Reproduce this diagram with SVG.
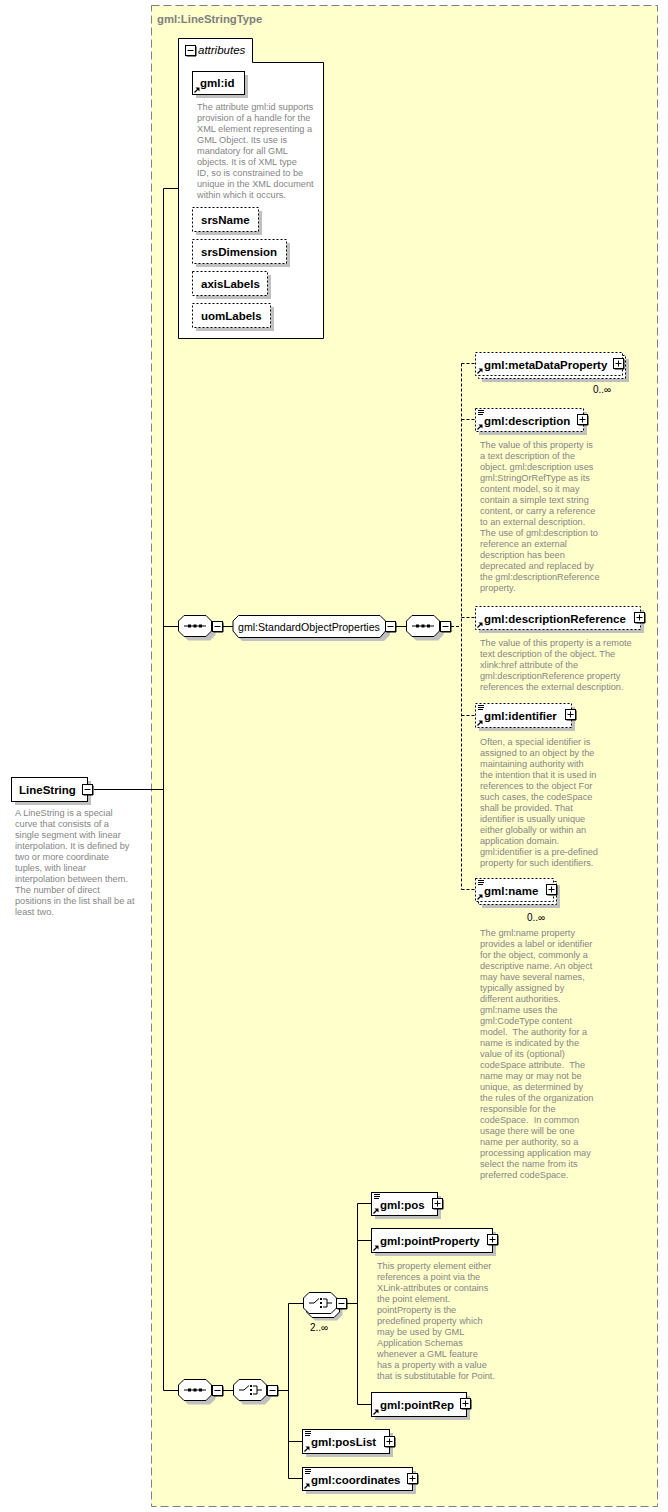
<svg xmlns="http://www.w3.org/2000/svg" xmlns:xlink="http://www.w3.org/1999/xlink" width="668" height="1512" viewBox="0 0 668 1512">
<style>
.bx{fill:#fff;stroke:#000;stroke-width:1}
.db{fill:#fff;stroke:#000;stroke-width:1;stroke-dasharray:2,2}
.sh{fill:#c0c0c0;stroke:none}
.t{font-family:"Liberation Sans",Arial,sans-serif;font-weight:bold;font-size:11.5px;fill:#000}
.n{font-family:"Liberation Sans",Arial,sans-serif;font-size:10.6px;fill:#000}
.m{font-family:"Liberation Sans",Arial,sans-serif;font-size:10px;fill:#000}
.d{font-family:"Liberation Sans",Arial,sans-serif;font-size:9.2px;fill:#858585}
.ln{stroke:#000;stroke-width:1;fill:none}
.dl{stroke:#000;stroke-width:1;fill:none;stroke-dasharray:3,2}
</style>
<defs>
<path id="oct" d="M6,0.5 H28 L33.5,6 V16 L28,21.5 H6 L0.5,16 V6 Z"/>
<g id="plus"><rect x="0.5" y="0.5" width="10" height="10" fill="#fff" stroke="#000"/><path d="M1.5,11 H11 V1.5" stroke="#000" fill="none"/><path d="M2.5,5.5 H8.5 M5.5,2.5 V8.5" stroke="#000"/></g>
<g id="minus"><rect x="0.5" y="0.5" width="10" height="10" fill="#fff" stroke="#000"/><path d="M1.5,11 H11 V1.5" stroke="#000" fill="none"/><path d="M2.5,5.5 H8.5" stroke="#000"/></g>
<g id="ref"><path d="M2,-2 L6,-6" stroke="#000" stroke-width="1.3"/><path d="M3,-7 H7 V-3 Z" fill="#000"/></g>
<g id="sc"><path d="M2.5,2 H8.5 M2.5,4 H8.5 M2.5,6 H7.5" stroke="#000" stroke-width="1"/></g>
<g id="seqi"><path d="M6,11 H28" stroke="#000"/><rect x="10" y="9.5" width="3" height="3" fill="#000"/><rect x="15.5" y="9.5" width="3" height="3" fill="#000"/><rect x="21" y="9.5" width="3" height="3" fill="#000"/></g>
<g id="chi"><path d="M6,11 H11 L16,6.5" stroke="#000" fill="none"/><rect x="17" y="6" width="2" height="2" fill="#000"/><rect x="17" y="10" width="2" height="2" fill="#000"/><rect x="17" y="14" width="2" height="2" fill="#000"/><path d="M20,7 H24 V15 H20 M24,11 H29" stroke="#000" fill="none"/></g>
</defs>
<rect x="0" y="0" width="668" height="1512" fill="#fff"/>

<g id="type">
<rect x="151.5" y="5.5" width="506" height="1501" fill="#ffffcc" stroke="#808080" stroke-width="1" stroke-dasharray="8,4"/>
<text x="157" y="23" class="t" style="fill:#808080;font-size:11.3px">gml:LineStringType</text>
</g>

<g id="connectors">
<path class="ln" d="M94,789.5 H163.5 M163.5,188.5 V1390.5 M163.5,188.5 H178 M163.5,626.5 H178 M223,626.5 H233 M396,626.5 H406 M163.5,1390.5 H178 M223,1390.5 H233 M278,1390.5 H288"/>
<path class="ln" d="M288.5,1303.5 V1478.5 M288.5,1303.5 H303 M288.5,1441.5 H302 M288.5,1478.5 H302 M347,1303.5 H357.5 M357.5,1203.5 V1404.5 M357.5,1203.5 H371 M357.5,1240.5 H371 M357.5,1404.5 H371"/>
<path class="dl" d="M451,626.5 H461.5 M461.5,363.5 V889.5 M461.5,363.5 H475 M461.5,419.5 H475 M461.5,617.5 H475 M461.5,715.5 H475 M461.5,889.5 H475"/>
</g>

<g id="attributes">
<path class="bx" d="M178.5,338.5 V38.5 H252.5 V62.5 H323.5 V338.5 Z"/>
<use xlink:href="#minus" href="#minus" x="185" y="45"/>
<text x="198" y="54" font-family="Liberation Sans, Arial, sans-serif" font-size="11.5" font-style="italic">attributes</text>
</g>

<g id="gml-id">
<rect class="sh" x="196" y="75" width="52" height="23"/>
<rect class="bx" x="192.5" y="71.5" width="52" height="23"/>
<use href="#ref" x="192.5" y="94.5"/>
<text x="200" y="87" class="t">gml:id</text>
<text class="d"><tspan x="197" y="110">The attribute gml:id supports</tspan><tspan x="197" dy="11">provision of a handle for the</tspan><tspan x="197" dy="11">XML element representing a</tspan><tspan x="197" dy="11">GML Object. Its use is</tspan><tspan x="197" dy="11">mandatory for all GML</tspan><tspan x="197" dy="11">objects. It is of XML type</tspan><tspan x="197" dy="11">ID, so is constrained to be</tspan><tspan x="197" dy="11">unique in the XML document</tspan><tspan x="197" dy="11">within which it occurs.</tspan></text>
</g>

<g id="srsName">
<rect class="sh" x="196" y="211" width="66" height="24"/>
<rect class="db" x="192.5" y="207.5" width="66" height="24"/>
<text x="201" y="223.5" class="t">srsName</text>
</g>
<g id="srsDimension">
<rect class="sh" x="196" y="243" width="94" height="24"/>
<rect class="db" x="192.5" y="239.5" width="94" height="24"/>
<text x="201" y="255.5" class="t">srsDimension</text>
</g>
<g id="axisLabels">
<rect class="sh" x="196" y="275" width="75" height="24"/>
<rect class="db" x="192.5" y="271.5" width="75" height="24"/>
<text x="201" y="287.5" class="t">axisLabels</text>
</g>
<g id="uomLabels">
<rect class="sh" x="196" y="307" width="78" height="24"/>
<rect class="db" x="192.5" y="303.5" width="78" height="24"/>
<text x="201" y="319.5" class="t">uomLabels</text>
</g>

<g id="LineString">
<rect class="sh" x="15" y="781" width="76" height="24"/>
<rect class="bx" x="11.5" y="777.5" width="76" height="24"/>
<text x="19" y="793.5" class="t">LineString</text>
<use href="#minus" x="82" y="784"/>
<text class="d"><tspan x="15" y="816">A LineString is a special</tspan><tspan x="15" dy="11">curve that consists of a</tspan><tspan x="15" dy="11">single segment with linear</tspan><tspan x="15" dy="11">interpolation. It is defined by</tspan><tspan x="15" dy="11">two or more coordinate</tspan><tspan x="15" dy="11">tuples, with linear</tspan><tspan x="15" dy="11">interpolation between them.</tspan><tspan x="15" dy="11">The number of direct</tspan><tspan x="15" dy="11">positions in the list shall be at</tspan><tspan x="15" dy="11">least two.</tspan></text>
</g>

<g id="seq1">
<use href="#oct" class="sh" x="182" y="619"/>
<use href="#oct" class="bx" x="178" y="615"/>
<use href="#seqi" x="178" y="615"/>
<use href="#minus" x="212" y="621"/>
</g>

<g id="StandardObjectProperties">
<path class="sh" d="M242,619 H384 L390,625 V635 L384,641 H242 L236,635 V625 Z"/>
<path class="bx" d="M238.5,615.5 H380 L385.5,621 V631 L380,637.5 H238.5 L233,631 V621 Z"/>
<text x="238" y="630.5" class="n">gml:StandardObjectProperties</text>
<use href="#minus" x="385" y="621"/>
</g>

<g id="seq2">
<use href="#oct" class="sh" x="410" y="619"/>
<use href="#oct" class="bx" x="406" y="615"/>
<use href="#seqi" x="406" y="615"/>
<use href="#minus" x="440" y="621"/>
</g>

<g id="metaDataProperty">
<rect class="sh" x="482" y="359" width="147" height="23"/>
<rect class="db" x="478.5" y="355.5" width="147" height="23"/>
<rect class="db" x="475.5" y="352.5" width="147" height="23"/>
<use href="#ref" x="475.5" y="375.5"/>
<text x="484" y="368.5" class="t">gml:metaDataProperty</text>
<use href="#plus" x="613" y="358"/>
<text x="593" y="393" class="m">0..∞</text>
</g>

<g id="description">
<rect class="sh" x="479" y="412" width="108" height="23"/>
<rect class="db" x="475.5" y="408.5" width="108" height="23"/>
<use href="#sc" x="475.5" y="408.5"/>
<use href="#ref" x="475.5" y="431.5"/>
<text x="484" y="424.5" class="t">gml:description</text>
<use href="#plus" x="577" y="414"/>
<text class="d"><tspan x="480" y="447.5">The value of this property is</tspan><tspan x="480" dy="11">a text description of the</tspan><tspan x="480" dy="11">object. gml:description uses</tspan><tspan x="480" dy="11">gml:StringOrRefType as its</tspan><tspan x="480" dy="11">content model, so it may</tspan><tspan x="480" dy="11">contain a simple text string</tspan><tspan x="480" dy="11">content, or carry a reference</tspan><tspan x="480" dy="11">to an external description.</tspan><tspan x="480" dy="11">The use of gml:description to</tspan><tspan x="480" dy="11">reference an external</tspan><tspan x="480" dy="11">description has been</tspan><tspan x="480" dy="11">deprecated and replaced by</tspan><tspan x="480" dy="11">the gml:descriptionReference</tspan><tspan x="480" dy="11">property.</tspan></text>
</g>

<g id="descriptionReference">
<rect class="sh" x="479" y="610" width="165" height="23"/>
<rect class="db" x="475.5" y="606.5" width="165" height="23"/>
<use href="#ref" x="475.5" y="629.5"/>
<text x="484" y="622.5" class="t">gml:descriptionReference</text>
<use href="#plus" x="634" y="612"/>
<text class="d"><tspan x="480" y="645.5">The value of this property is a remote</tspan><tspan x="480" dy="11">text description of the object. The</tspan><tspan x="480" dy="11">xlink:href attribute of the</tspan><tspan x="480" dy="11">gml:descriptionReference property</tspan><tspan x="480" dy="11">references the external description.</tspan></text>
</g>

<g id="identifier">
<rect class="sh" x="479" y="707" width="96" height="24"/>
<rect class="db" x="475.5" y="703.5" width="96" height="24"/>
<use href="#sc" x="475.5" y="703.5"/>
<use href="#ref" x="475.5" y="727.5"/>
<text x="484" y="719.5" class="t">gml:identifier</text>
<use href="#plus" x="565" y="709"/>
<text class="d"><tspan x="480" y="744.5">Often, a special identifier is</tspan><tspan x="480" dy="11">assigned to an object by the</tspan><tspan x="480" dy="11">maintaining authority with</tspan><tspan x="480" dy="11">the intention that it is used in</tspan><tspan x="480" dy="11">references to the object For</tspan><tspan x="480" dy="11">such cases, the codeSpace</tspan><tspan x="480" dy="11">shall be provided. That</tspan><tspan x="480" dy="11">identifier is usually unique</tspan><tspan x="480" dy="11">either globally or within an</tspan><tspan x="480" dy="11">application domain.</tspan><tspan x="480" dy="11">gml:identifier is a pre-defined</tspan><tspan x="480" dy="11">property for such identifiers.</tspan></text>
</g>

<g id="name">
<rect class="sh" x="482" y="885" width="78" height="23"/>
<rect class="db" x="478.5" y="881.5" width="78" height="23"/>
<rect class="db" x="475.5" y="878.5" width="78" height="23"/>
<use href="#sc" x="475.5" y="878.5"/>
<use href="#ref" x="475.5" y="901.5"/>
<text x="484" y="894.5" class="t">gml:name</text>
<use href="#plus" x="546" y="884"/>
<text x="527" y="921" class="m">0..∞</text>
<text class="d"><tspan x="480" y="935.5">The gml:name property</tspan><tspan x="480" dy="11">provides a label or identifier</tspan><tspan x="480" dy="11">for the object, commonly a</tspan><tspan x="480" dy="11">descriptive name. An object</tspan><tspan x="480" dy="11">may have several names,</tspan><tspan x="480" dy="11">typically assigned by</tspan><tspan x="480" dy="11">different authorities.</tspan><tspan x="480" dy="11">gml:name uses the</tspan><tspan x="480" dy="11">gml:CodeType content</tspan><tspan x="480" dy="11" xml:space="preserve">model.  The authority for a</tspan><tspan x="480" dy="11">name is indicated by the</tspan><tspan x="480" dy="11">value of its (optional)</tspan><tspan x="480" dy="11" xml:space="preserve">codeSpace attribute.  The</tspan><tspan x="480" dy="11">name may or may not be</tspan><tspan x="480" dy="11">unique, as determined by</tspan><tspan x="480" dy="11">the rules of the organization</tspan><tspan x="480" dy="11">responsible for the</tspan><tspan x="480" dy="11" xml:space="preserve">codeSpace.  In common</tspan><tspan x="480" dy="11">usage there will be one</tspan><tspan x="480" dy="11">name per authority, so a</tspan><tspan x="480" dy="11">processing application may</tspan><tspan x="480" dy="11">select the name from its</tspan><tspan x="480" dy="11">preferred codeSpace.</tspan></text>
</g>

<g id="seq3">
<use href="#oct" class="sh" x="182" y="1383"/>
<use href="#oct" class="bx" x="178" y="1379"/>
<use href="#seqi" x="178" y="1379"/>
<use href="#minus" x="212" y="1385"/>
</g>

<g id="choice1">
<use href="#oct" class="sh" x="237" y="1383"/>
<use href="#oct" class="bx" x="233" y="1379"/>
<use href="#chi" x="233" y="1379"/>
<use href="#minus" x="267" y="1385"/>
</g>

<g id="choice2">
<use href="#oct" class="sh" x="309" y="1299"/>
<use href="#oct" class="bx" x="306" y="1296"/>
<use href="#oct" class="bx" x="303" y="1292"/>
<use href="#chi" x="303" y="1292"/>
<use href="#minus" x="336" y="1298"/>
<text x="310" y="1331" class="m">2..∞</text>
</g>

<g id="pos">
<rect class="sh" x="375" y="1196" width="66" height="23"/>
<rect class="bx" x="371.5" y="1192.5" width="66" height="23"/>
<use href="#sc" x="371.5" y="1192.5"/>
<use href="#ref" x="371.5" y="1215.5"/>
<text x="380" y="1208.5" class="t">gml:pos</text>
<use href="#plus" x="432" y="1198"/>
</g>

<g id="pointProperty">
<rect class="sh" x="375" y="1232" width="121" height="24"/>
<rect class="bx" x="371.5" y="1228.5" width="121" height="24"/>
<use href="#ref" x="371.5" y="1252.5"/>
<text x="380" y="1245" class="t">gml:pointProperty</text>
<use href="#plus" x="487" y="1234"/>
<text class="d"><tspan x="377" y="1268.5">This property element either</tspan><tspan x="377" dy="11">references a point via the</tspan><tspan x="377" dy="11">XLink-attributes or contains</tspan><tspan x="377" dy="11">the point element.</tspan><tspan x="377" dy="11">pointProperty is the</tspan><tspan x="377" dy="11">predefined property which</tspan><tspan x="377" dy="11">may be used by GML</tspan><tspan x="377" dy="11">Application Schemas</tspan><tspan x="377" dy="11">whenever a GML feature</tspan><tspan x="377" dy="11">has a property with a value</tspan><tspan x="377" dy="11">that is substitutable for Point.</tspan></text>
</g>

<g id="pointRep">
<rect class="sh" x="375" y="1396" width="95" height="24"/>
<rect class="bx" x="371.5" y="1392.5" width="95" height="24"/>
<use href="#ref" x="371.5" y="1416.5"/>
<text x="380" y="1409" class="t">gml:pointRep</text>
<use href="#plus" x="460" y="1398"/>
</g>

<g id="posList">
<rect class="sh" x="306" y="1433" width="87" height="24"/>
<rect class="bx" x="302.5" y="1429.5" width="87" height="24"/>
<use href="#sc" x="302.5" y="1429.5"/>
<use href="#ref" x="302.5" y="1453.5"/>
<text x="311" y="1446" class="t">gml:posList</text>
<use href="#plus" x="384" y="1436"/>
</g>

<g id="coordinates">
<rect class="sh" x="306" y="1471" width="110" height="23"/>
<rect class="bx" x="302.5" y="1467.5" width="110" height="23"/>
<use href="#sc" x="302.5" y="1467.5"/>
<use href="#ref" x="302.5" y="1490.5"/>
<text x="311" y="1483.5" class="t">gml:coordinates</text>
<use href="#plus" x="407" y="1473"/>
</g>
</svg>
